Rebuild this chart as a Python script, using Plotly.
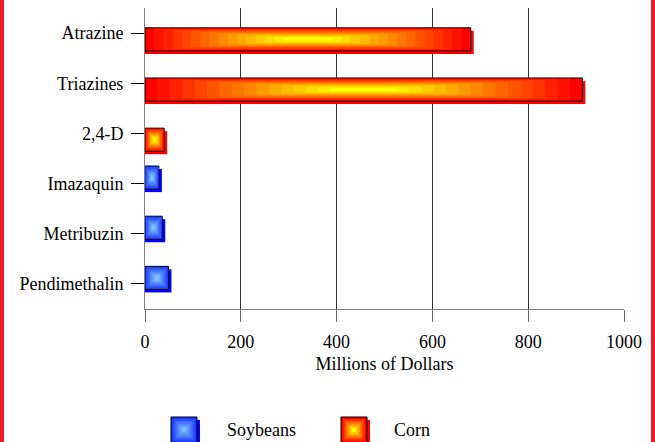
import plotly.graph_objects as go

# ---------------- data ----------------
CATEGORIES = ["Atrazine", "Triazines", "2,4-D", "Imazaquin", "Metribuzin", "Pendimethalin"]
SOYBEANS = [None, None, None, 29, 36, 49]
CORN = [680, 913, 40, None, None, None]
SERIES_NAMES = ["Soybeans", "Corn"]
X_TICKS = [0, 200, 400, 600, 800, 1000]
X_TITLE = "Millions of Dollars"

# ---------------- geometry / style ----------------
FIG_W, FIG_H = 655, 442
M_L, M_R, M_T, M_B = 145, 31, 8, 133
PW = FIG_W - M_L - M_R
PH = FIG_H - M_T - M_B
X_MAX = 1000
UX = X_MAX / PW                 # data units per pixel (x)
UY = len(CATEGORIES) / PH       # category units per pixel (y)
BAR_W = 0.46
N_LAYERS = 16
FONT = "Liberation Serif"

STYLES = {
    "Soybeans": dict(center=-0.12, outer=(25, 55, 255), inner=(125, 195, 255), shadow="#0000ff"),
    "Corn": dict(center=0.125, outer=(255, 0, 0), inner=(255, 255, 0), shadow="#ff0000"),
}


def mix(a, b, t):
    return "rgb(%d,%d,%d)" % tuple(round(a[i] + (b[i] - a[i]) * t) for i in range(3))


fig = go.Figure()

for name, vals in zip(SERIES_NAMES, [SOYBEANS, CORN]):
    st = STYLES[name]
    ys = [c for c, v in zip(CATEGORIES, vals) if v is not None]
    xs = [v for v in vals if v is not None]
    # drop shadow
    fig.add_trace(go.Bar(
        orientation="h", y=ys, x=[v + 3 * UX for v in xs], base=0,
        width=BAR_W, offset=st["center"] - BAR_W / 2 + 3 * UY,
        marker=dict(color=st["shadow"], line=dict(width=0)),
        showlegend=False, hoverinfo="skip"))
    # stepped gradient as concentric layers
    for k in range(N_LAYERS):
        t = 0.85 * k / (N_LAYERS - 1)
        w = BAR_W * (1 - t)
        fig.add_trace(go.Bar(
            orientation="h", y=ys, x=[v * (1 - t) for v in xs],
            base=[v * t / 2 for v in xs],
            width=w, offset=st["center"] - w / 2,
            marker=dict(color=mix(st["outer"], st["inner"], k / (N_LAYERS - 1)),
                        line=dict(width=1 if k == 0 else 0, color="black")),
            name=name, showlegend=False,
            hoverinfo="x+y" if k == 0 else "skip"))


def px_x(p):
    return (p - M_L) / PW


def px_y(p):
    return (M_T + PH - p) / PH


shapes = []
# red page border (left & right)
for x0, x1 in ((-6, 4), (651, 661)):
    shapes.append(dict(type="rect", xref="paper", yref="paper",
                       x0=px_x(x0), x1=px_x(x1), y0=px_y(FIG_H + 5), y1=px_y(-5),
                       fillcolor="#ee1c25", line=dict(width=0)))

# manual legend
annotations = []
LEG = [("Soybeans", 171, 225), ("Corn", 341, 392)]
for name, sx, tx in LEG:
    st = STYLES[name]
    s = 26
    sy = 417
    shapes.append(dict(type="rect", xref="paper", yref="paper",
                       x0=px_x(sx + 3), x1=px_x(sx + s + 3), y0=px_y(sy + s + 3), y1=px_y(sy + 3),
                       fillcolor=st["shadow"], line=dict(width=0)))
    n = 6
    for k in range(n):
        d = k * 2.2
        shapes.append(dict(type="rect", xref="paper", yref="paper",
                           x0=px_x(sx + d), x1=px_x(sx + s - d), y0=px_y(sy + s - d), y1=px_y(sy + d),
                           fillcolor=mix(st["outer"], st["inner"], k / (n - 1)),
                           line=dict(width=1 if k == 0 else 0, color="black")))
    annotations.append(dict(text=name, xref="paper", yref="paper", x=px_x(tx), y=px_y(430),
                            xanchor="left", yanchor="middle", showarrow=False,
                            font=dict(family=FONT, size=18, color="black")))

fig.update_layout(
    width=FIG_W, height=FIG_H,
    margin=dict(l=M_L, r=M_R, t=M_T, b=M_B, autoexpand=False),
    paper_bgcolor="white", plot_bgcolor="white",
    barmode="overlay",
    showlegend=False,
    font=dict(family=FONT, size=18, color="black"),
    shapes=shapes, annotations=annotations,
    xaxis=dict(range=[0, X_MAX], tickvals=X_TICKS, ticktext=[str(v) for v in X_TICKS],
               showgrid=True, gridcolor="#333333", gridwidth=1,
               showline=True, linecolor="#808080", linewidth=1,
               ticks="outside", ticklen=12, tickcolor="#666666",
               zeroline=False, ticklabelstandoff=4,
               title=dict(text=X_TITLE, standoff=6, font=dict(family=FONT, size=18))),
    yaxis=dict(type="category", categoryorder="array", categoryarray=CATEGORIES,
               range=[len(CATEGORIES) - 0.5, -0.5],
               showgrid=False, showline=True, linecolor="#808080", linewidth=1,
               ticks="outside", ticklen=13, tickcolor="black",
               zeroline=False, ticklabelstandoff=4),
)

fig.write_html("out.html", config={"displayModeBar": False},
               post_script="document.body.style.margin='0px';")
